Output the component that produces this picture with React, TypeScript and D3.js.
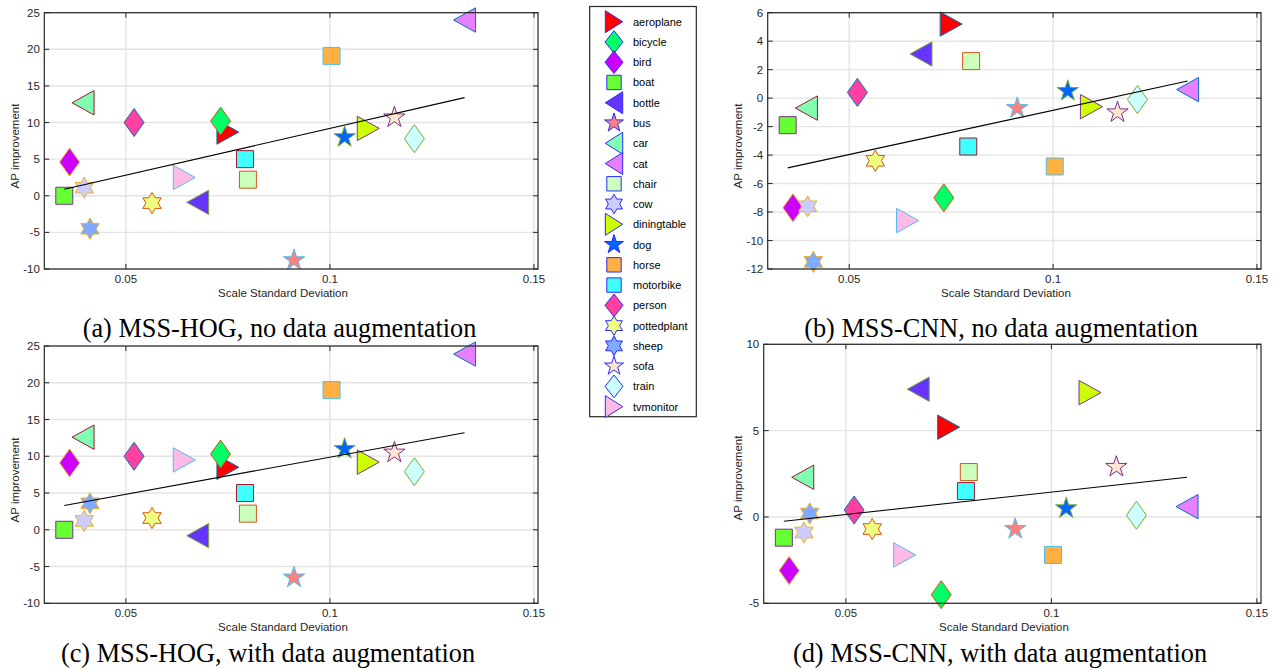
import React from 'react';
import * as d3 from 'd3';

// ---------- data ----------
const classes = ['aeroplane', 'bicycle', 'bird', 'boat', 'bottle', 'bus', 'car', 'cat', 'chair', 'cow', 'diningtable', 'dog', 'horse', 'motorbike', 'person', 'pottedplant', 'sheep', 'sofa', 'train', 'tvmonitor'];
const scaleStd = [0.0750, 0.0732, 0.0362, 0.0349, 0.0676, 0.0912, 0.0395, 0.1330, 0.0799, 0.0398, 0.1094, 0.1036, 0.1004, 0.0792, 0.0520, 0.0564, 0.0412, 0.1158, 0.1207, 0.0643];
const apHogNoAug = [8.7, 10.2, 4.6, 0.0, -0.9, -8.8, 12.7, 24.0, 2.2, 1.1, 9.2, 8.0, 19.1, 5.0, 10.0, -1.0, -4.5, 10.7, 7.8, 2.5];
const apCnnNoAug = [5.2, -7.0, -7.7, -1.9, 3.1, -0.7, -0.7, 0.6, 2.6, -7.6, -0.6, 0.5, -4.8, -3.4, 0.4, -4.4, -11.5, -1.0, -0.1, -8.6];
const apHogAug = [8.5, 10.3, 9.1, 0.0, -0.8, -6.5, 12.6, 23.9, 2.2, 1.2, 9.2, 11.0, 19.0, 5.0, 10.0, 1.6, 3.6, 10.5, 7.9, 9.5];
const apCnnAug = [5.2, -4.5, -3.1, -1.2, 7.4, -0.7, 2.3, 0.6, 2.6, -0.9, 7.2, 0.5, -2.2, 1.5, 0.4, -0.7, 0.2, 2.9, 0.1, -2.2];
// fitted line values at the smallest and largest scale std
const fitHogNoAug = [0.9, 13.4];
const fitCnnNoAug = [-4.9, 1.2];
const fitHogAug = [3.3, 13.2];
const fitCnnAug = [-0.25, 2.3];
const xTicks = [0.05, 0.1, 0.15];
const xTickLabels = ['0.05', '0.1', '0.15'];
const xDomain = [0.03, 0.151];
const yTicksHog = [-10, -5, 0, 5, 10, 15, 20, 25];
const yTicksCnnNoAug = [-12, -10, -8, -6, -4, -2, 0, 2, 4, 6];
const yTicksCnnAug = [-5, 0, 5, 10];
const captions = ['(a) MSS-HOG, no data augmentation', '(b) MSS-CNN, no data augmentation', '(c) MSS-HOG, with data augmentation', '(d) MSS-CNN, with data augmentation'];
const xLabel = 'Scale Standard Deviation';
const yLabel = 'AP improvement';

// ---------- styles ----------
const markerShapes = ['>', 'd', 'd', 's', '<', 'p', '<', '<', 's', 'h', '>', 'p', 's', 's', 'd', 'h', 'h', 'p', 'd', '>'];
const fillColors = ['#ff0000', '#00ff66', '#cc00ff', '#66ff33', '#6633ff', '#ff8080', '#80ffb3', '#e680ff', '#ccffbb', '#ccccff', '#ccff00', '#0066ff', '#ffb040', '#40ffff', '#ff40a0', '#eeff80', '#80aaff', '#ffe6cc', '#ccffff', '#ffbbe6'];
const edgeCycle = ['#0072BD', '#D95319', '#EDB120', '#7E2F8E', '#77AC30', '#4DBEEE', '#A2142F'];
const legendEdge = '#2a2aff';

const SANS = '"Liberation Sans", Arial, Helvetica, sans-serif';
const SERIF = '"Liberation Serif", "Times New Roman", Times, serif';
const AXIS = '#262626';
const GRID = '#e4e4e4';

type Dims = { triW: number; triH: number; diaW: number; diaH: number; sq: number; pent: number; hex: number };
const plotDims: Dims = { triW: 11, triH: 12.2, diaW: 10, diaH: 14, sq: 8.5, pent: 11.2, hex: 10.6 };
const legendDims: Dims = { triW: 8.7, triH: 11, diaW: 9, diaH: 11.3, sq: 7.2, pent: 10, hex: 9.8 };

function starPoints(n: number, R: number, r: number): [number, number][] {
  const pts: [number, number][] = [];
  for (let i = 0; i < 2 * n; i++) {
    const a = -Math.PI / 2 + (i * Math.PI) / n;
    const rad = i % 2 === 0 ? R : r;
    pts.push([rad * Math.cos(a), rad * Math.sin(a)]);
  }
  return pts;
}

function shapePoints(shape: string, d: Dims): [number, number][] {
  switch (shape) {
    case '>':
      return [[d.triW, 0], [-d.triW, -d.triH], [-d.triW, d.triH]];
    case '<':
      return [[-d.triW, 0], [d.triW, -d.triH], [d.triW, d.triH]];
    case 'd':
      return [[0, -d.diaH], [d.diaW, 0], [0, d.diaH], [-d.diaW, 0]];
    case 's':
      return [[-d.sq, -d.sq], [d.sq, -d.sq], [d.sq, d.sq], [-d.sq, d.sq]];
    case 'p':
      return starPoints(5, d.pent, d.pent * 0.382);
    case 'h':
      return starPoints(6, d.hex, d.hex / Math.sqrt(3));
    default:
      return [];
  }
}

const closedLine = d3.line<[number, number]>().curve(d3.curveLinearClosed);

function markerPath(shape: string, d: Dims, cx: number, cy: number): string {
  const pts = shapePoints(shape, d).map(([x, y]) => [x + cx, y + cy] as [number, number]);
  return closedLine(pts) || '';
}

type PanelCfg = {
  values: number[];
  fit: number[];
  yDomain: [number, number];
  yTicks: number[];
  left: number;
  right: number;
  top: number;
  bottom: number;
  caption: string;
  capX: number;
  capY: number;
  xLabelX: number;
  yLabelX: number;
  yLabelY: number;
};

const panels: PanelCfg[] = [
  { values: apHogNoAug, fit: fitHogNoAug, yDomain: [-10, 25], yTicks: yTicksHog, left: 44.3, right: 538, top: 12.7, bottom: 269, caption: captions[0], capX: 279.5, capY: 336.5, xLabelX: 283, yLabelX: 19, yLabelY: 146 },
  { values: apCnnNoAug, fit: fitCnnNoAug, yDomain: [-12, 6], yTicks: yTicksCnnNoAug, left: 767.7, right: 1261, top: 12.7, bottom: 269, caption: captions[1], capX: 1001, capY: 336.5, xLabelX: 1006, yLabelX: 742, yLabelY: 146 },
  { values: apHogAug, fit: fitHogAug, yDomain: [-10, 25], yTicks: yTicksHog, left: 44.3, right: 538, top: 346, bottom: 603.3, caption: captions[2], capX: 268, capY: 661.5, xLabelX: 283, yLabelX: 19, yLabelY: 480 },
  { values: apCnnAug, fit: fitCnnAug, yDomain: [-5, 10], yTicks: yTicksCnnAug, left: 763.7, right: 1261, top: 344.3, bottom: 603.3, caption: captions[3], capX: 1000, capY: 661.5, xLabelX: 1004, yLabelX: 742, yLabelY: 478 },
];

function Panel({ cfg }: { cfg: PanelCfg }) {
  const x = d3.scaleLinear().domain(xDomain).range([cfg.left, cfg.right]);
  const y = d3.scaleLinear().domain(cfg.yDomain).range([cfg.bottom, cfg.top]);
  const xMin = d3.min(scaleStd) as number;
  const xMax = d3.max(scaleStd) as number;
  const fitLine = d3.line<[number, number]>().x((d) => x(d[0])).y((d) => y(d[1]));
  const fitPath = fitLine([[xMin, cfg.fit[0]], [xMax, cfg.fit[1]]]) || '';
  const tl = 5;
  return (
    <g>
      <rect x={cfg.left} y={cfg.top} width={cfg.right - cfg.left} height={cfg.bottom - cfg.top} fill="#fff" />
      {/* grid */}
      {xTicks.map((t) => (
        <line key={'gx' + t} x1={x(t)} x2={x(t)} y1={cfg.top} y2={cfg.bottom} stroke={GRID} strokeWidth={1.4} />
      ))}
      {cfg.yTicks.map((t) => (
        <line key={'gy' + t} x1={cfg.left} x2={cfg.right} y1={y(t)} y2={y(t)} stroke={GRID} strokeWidth={1.4} />
      ))}
      {/* markers */}
      {classes.map((c, i) => (
        <path
          key={c}
          d={markerPath(markerShapes[i], plotDims, x(scaleStd[i]), y(cfg.values[i]))}
          fill={fillColors[i]}
          stroke={edgeCycle[i % edgeCycle.length]}
          strokeWidth={1}
          strokeLinejoin="miter"
        />
      ))}
      {/* fit line */}
      <path d={fitPath} fill="none" stroke="#000" strokeWidth={1.1} />
      {/* box */}
      <rect x={cfg.left} y={cfg.top} width={cfg.right - cfg.left} height={cfg.bottom - cfg.top} fill="none" stroke={AXIS} strokeWidth={1.2} />
      {/* ticks */}
      {xTicks.map((t) => (
        <g key={'tx' + t}>
          <line x1={x(t)} x2={x(t)} y1={cfg.bottom} y2={cfg.bottom - tl} stroke={AXIS} strokeWidth={1} />
          <line x1={x(t)} x2={x(t)} y1={cfg.top} y2={cfg.top + tl} stroke={AXIS} strokeWidth={1} />
        </g>
      ))}
      {cfg.yTicks.map((t) => (
        <g key={'ty' + t}>
          <line x1={cfg.left} x2={cfg.left + tl} y1={y(t)} y2={y(t)} stroke={AXIS} strokeWidth={1} />
          <line x1={cfg.right} x2={cfg.right - tl} y1={y(t)} y2={y(t)} stroke={AXIS} strokeWidth={1} />
        </g>
      ))}
      {/* tick labels */}
      {xTicks.map((t, i) => (
        <text key={'lx' + t} x={x(t)} y={cfg.bottom + 13.5} textAnchor="middle" fontFamily={SANS} fontSize={11.5} fill={AXIS}>
          {xTickLabels[i]}
        </text>
      ))}
      {cfg.yTicks.map((t) => (
        <text key={'ly' + t} x={cfg.left - 4.5} y={y(t) + 4} textAnchor="end" fontFamily={SANS} fontSize={11.5} fill={AXIS}>
          {String(t)}
        </text>
      ))}
      {/* axis labels */}
      <text x={cfg.xLabelX} y={cfg.bottom + 28} textAnchor="middle" fontFamily={SANS} fontSize={11.5} fill={AXIS}>
        {xLabel}
      </text>
      <text
        transform={`translate(${cfg.yLabelX},${cfg.yLabelY}) rotate(-90)`}
        textAnchor="middle"
        fontFamily={SANS}
        fontSize={11.5}
        fill={AXIS}
      >
        {yLabel}
      </text>
      {/* caption */}
      <text x={cfg.capX} y={cfg.capY} textAnchor="middle" fontFamily={SERIF} fontSize={26.3} fill="#000">
        {cfg.caption}
      </text>
    </g>
  );
}

function Legend() {
  const x0 = 589.7;
  const x1 = 696.3;
  const y0 = 6.5;
  const y1 = 416.7;
  const step = 20.26;
  const first = 21.7;
  return (
    <g>
      <rect x={x0} y={y0} width={x1 - x0} height={y1 - y0} fill="#fff" stroke={AXIS} strokeWidth={1.2} />
      {classes.map((c, i) => {
        const cy = first + i * step;
        return (
          <g key={c}>
            <path d={markerPath(markerShapes[i], legendDims, 614, cy)} fill={fillColors[i]} stroke={legendEdge} strokeWidth={1} />
            <text x={633} y={cy + 4} fontFamily={SANS} fontSize={11} fill="#000">
              {c}
            </text>
          </g>
        );
      })}
    </g>
  );
}

export default function App() {
  return (
    <svg width={1275} height={670} viewBox="0 0 1275 670" style={{ position: 'absolute', left: 0, top: 0, background: '#fff' }}>
      <rect x={0} y={0} width={1275} height={670} fill="#fff" />
      {panels.map((p, i) => (
        <Panel key={i} cfg={p} />
      ))}
      <Legend />
    </svg>
  );
}
